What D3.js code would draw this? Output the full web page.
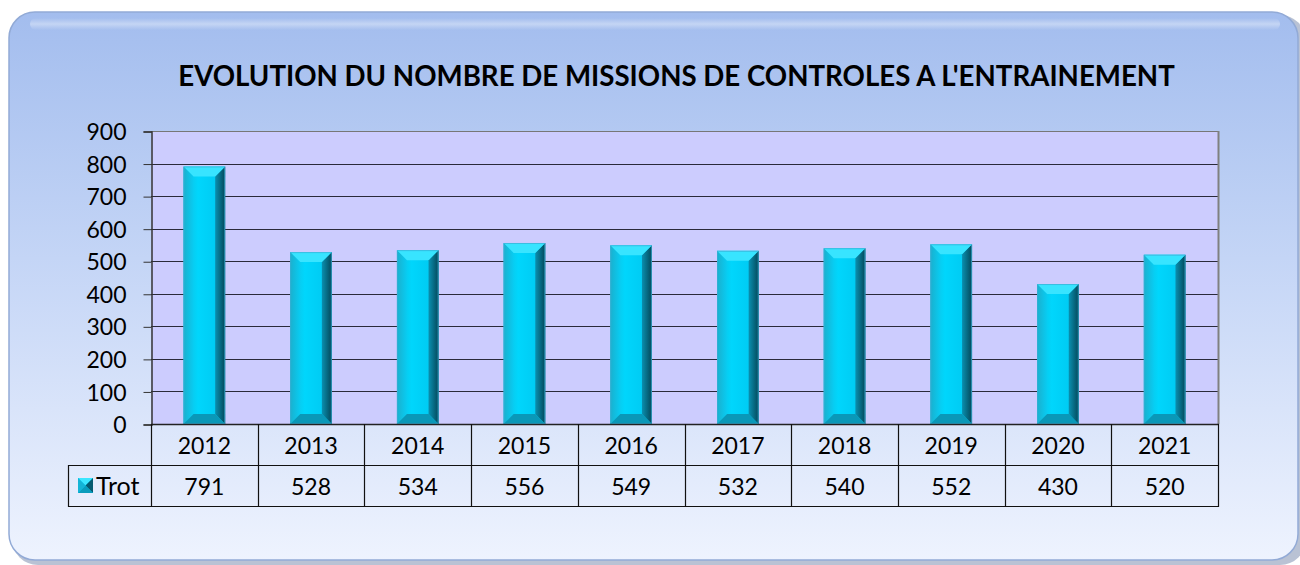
<!DOCTYPE html>
<html><head><meta charset="utf-8">
<script src="https://cdn.jsdelivr.net/npm/d3@7"></script>
<style>html,body{margin:0;padding:0;background:#fff;}svg{display:block;}</style>
</head><body>
<svg id="c" width="1300" height="565"></svg>
<script>
const years = ["2012","2013","2014","2015","2016","2017","2018","2019","2020","2021"];
const trot = [791,528,534,556,549,532,540,552,430,520];
const seriesName = "Trot";
const yTicks = [0,100,200,300,400,500,600,700,800,900];
const title = "EVOLUTION DU NOMBRE DE MISSIONS DE CONTROLES A L'ENTRAINEMENT";

const FONT = "Lato, 'Open Sans', sans-serif";
const svg = d3.select("#c");
const defs = svg.append("defs");

const bg = defs.append("linearGradient").attr("id","bg").attr("x1",0).attr("y1",0).attr("x2",0).attr("y2",1);
bg.append("stop").attr("offset","0%").attr("stop-color","#a3bdee");
bg.append("stop").attr("offset","45%").attr("stop-color","#c4d5f6");
bg.append("stop").attr("offset","100%").attr("stop-color","#eef3fe");

const front = defs.append("linearGradient").attr("id","front").attr("x1",0).attr("y1",0).attr("x2",1).attr("y2",0);
front.append("stop").attr("offset","0%").attr("stop-color","#14bcdc");
front.append("stop").attr("offset","35%").attr("stop-color","#00d6fc");
front.append("stop").attr("offset","75%").attr("stop-color","#00ccf4");
front.append("stop").attr("offset","100%").attr("stop-color","#0aa8cc");

const rightG = defs.append("linearGradient").attr("id","rside").attr("x1",0).attr("y1",0).attr("x2",1).attr("y2",0);
rightG.append("stop").attr("offset","0%").attr("stop-color","#0a90b0");
rightG.append("stop").attr("offset","100%").attr("stop-color","#03485a");

const leftG = defs.append("linearGradient").attr("id","lside").attr("x1",0).attr("y1",0).attr("x2",1).attr("y2",0);
leftG.append("stop").attr("offset","0%").attr("stop-color","#1ab0ce");
leftG.append("stop").attr("offset","100%").attr("stop-color","#08ccf2");

const hl = defs.append("linearGradient").attr("id","hl").attr("x1",0).attr("y1",0).attr("x2",0).attr("y2",1);
hl.append("stop").attr("offset","0%").attr("stop-color","#ffffff").attr("stop-opacity",0);
hl.append("stop").attr("offset","50%").attr("stop-color","#ffffff").attr("stop-opacity",0.35);
hl.append("stop").attr("offset","100%").attr("stop-color","#ffffff").attr("stop-opacity",0);

// outer box
svg.append("rect").attr("x",12).attr("y",15).attr("width",1294).attr("height",550).attr("rx",26)
  .attr("fill","#7f8fb0").attr("opacity",0.55);
svg.append("rect").attr("x",9).attr("y",12).attr("width",1289).attr("height",548).attr("rx",26)
  .attr("fill","url(#bg)").attr("stroke","#92aad6").attr("stroke-width",1.5);
svg.append("rect").attr("x",30).attr("y",18).attr("width",1250).attr("height",12).attr("rx",6).attr("fill","url(#hl)");

// plot
const m = {left:151, right:1218, top:131, bottom:424};
const x = d3.scaleBand().domain(years).range([m.left,m.right]).paddingInner(0.61).paddingOuter(0.305);
const xc = d3.scaleBand().domain(years).range([m.left,m.right]);
const y = d3.scaleLinear().domain([0,900]).range([m.bottom,m.top]);

svg.append("rect").attr("x",m.left).attr("y",m.top).attr("width",m.right-m.left).attr("height",m.bottom-m.top)
  .attr("fill","#ccccfe");

// gridlines
svg.append("g").selectAll("line").data(yTicks.filter(d=>d>0)).join("line")
  .attr("x1",m.left).attr("x2",m.right).attr("y1",d=>Math.round(y(d))+0.5).attr("y2",d=>Math.round(y(d))+0.5)
  .attr("stroke",d=>d===900?"#777":"#2a2a3a").attr("stroke-width",1.2);
svg.append("line").attr("x1",m.right+0.5).attr("x2",m.right+0.5).attr("y1",m.top).attr("y2",m.bottom)
  .attr("stroke","#808080").attr("stroke-width",2);

// y axis
const yAxis = d3.axisLeft(y).tickValues(yTicks).tickSize(8).tickPadding(17).tickFormat(d3.format("d"));
const ya = svg.append("g").attr("transform",`translate(${m.left+0.5},0.5)`).call(yAxis);
ya.select(".domain").attr("stroke","#333").attr("stroke-width",1.5);
ya.selectAll(".tick line").attr("stroke","#333");
ya.selectAll("text").attr("font-family",FONT).attr("font-size",23).attr("fill","#000").attr("dy","0.35em");

// bars
const bev = 10;
const bars = svg.append("g").selectAll("g").data(years.map((yr,i)=>({yr,v:trot[i]}))).join("g");
bars.each(function(d){
  const g = d3.select(this);
  const x0 = x(d.yr), w = x.bandwidth(), x1 = x0+w;
  const t = y(d.v), b = y(0);
  g.append("rect").attr("x",x0).attr("y",t).attr("width",w).attr("height",b-t).attr("fill","url(#front)");
  g.append("polygon").attr("points",[[x0,t],[x0+bev,t+bev],[x0+bev,b-bev],[x0,b]].join(" ")).attr("fill","url(#lside)");
  g.append("polygon").attr("points",[[x1,t],[x1-bev,t+bev],[x1-bev,b-bev],[x1,b]].join(" ")).attr("fill","url(#rside)");
  g.append("polygon").attr("points",[[x0,t],[x1,t],[x1-bev,t+bev],[x0+bev,t+bev]].join(" ")).attr("fill","#38e4ff");
  g.append("polygon").attr("points",[[x0,b],[x1,b],[x1-bev,b-bev],[x0+bev,b-bev]].join(" ")).attr("fill","#0a98b8");
  g.append("rect").attr("x",x0+0.5).attr("y",t+0.5).attr("width",w-1).attr("height",b-t-1)
    .attr("fill","none").attr("stroke","#3aaed4").attr("stroke-width",1).attr("opacity",0.7);
});

// x axis line
svg.append("line").attr("x1",m.left).attr("x2",m.right+1).attr("y1",m.bottom+0.5).attr("y2",m.bottom+0.5)
  .attr("stroke","#222").attr("stroke-width",1.5);

// data table
const r1 = m.bottom, r2 = 465, r3 = 506, legL = 68;
const tbl = svg.append("g").attr("stroke","#111").attr("stroke-width",1.2).attr("fill","none");
tbl.append("line").attr("x1",legL).attr("x2",m.right+1).attr("y1",r2+0.5).attr("y2",r2+0.5);
tbl.append("line").attr("x1",legL).attr("x2",m.right+1).attr("y1",r3+0.5).attr("y2",r3+0.5);
tbl.append("line").attr("x1",legL+0.5).attr("x2",legL+0.5).attr("y1",r2).attr("y2",r3+1);
const bounds = years.map(yr=>xc(yr)).concat([m.right]);
tbl.selectAll(".v").data(bounds).join("line")
  .attr("x1",d=>Math.round(d)+0.5).attr("x2",d=>Math.round(d)+0.5).attr("y1",r1).attr("y2",r3+1);

svg.append("g").selectAll("text").data(years).join("text")
  .attr("x",d=>xc(d)+xc.bandwidth()/2).attr("y",(r1+r2)/2+1).attr("dy","0.35em")
  .attr("text-anchor","middle").attr("font-family",FONT).attr("font-size",23).text(d=>d);
svg.append("g").selectAll("text").data(trot).join("text")
  .attr("x",(d,i)=>xc(years[i])+xc.bandwidth()/2).attr("y",(r2+r3)/2+1).attr("dy","0.35em")
  .attr("text-anchor","middle").attr("font-family",FONT).attr("font-size",23).text(d=>d);

// legend key
const kx=78, ky=478, ks=15;
const key = svg.append("g");
key.append("rect").attr("x",kx).attr("y",ky).attr("width",ks).attr("height",ks).attr("fill","#00c8f0");
key.append("polygon").attr("points",[[kx,ky],[kx+ks,ky],[kx+ks/2,ky+ks/2]].join(" ")).attr("fill","#3ae6ff");
key.append("polygon").attr("points",[[kx+ks,ky],[kx+ks,ky+ks],[kx+ks/2,ky+ks/2]].join(" ")).attr("fill","#055a70");
key.append("polygon").attr("points",[[kx,ky+ks],[kx+ks,ky+ks],[kx+ks/2,ky+ks/2]].join(" ")).attr("fill","#0a9cbc");
key.append("polygon").attr("points",[[kx,ky],[kx,ky+ks],[kx+ks/2,ky+ks/2]].join(" ")).attr("fill","#14b4d6");
svg.append("text").attr("x",96).attr("y",(r2+r3)/2+1).attr("dy","0.35em")
  .attr("font-family",FONT).attr("font-size",25).text(seriesName);

// title
const tt = svg.append("text").attr("x",676.5).attr("y",86).attr("text-anchor","middle")
  .attr("font-family",FONT).attr("font-weight","bold").attr("font-size",24).text(title);
const w0 = tt.node().getComputedTextLength();
tt.attr("font-size", 24*997/w0);
</script>
</body></html>
